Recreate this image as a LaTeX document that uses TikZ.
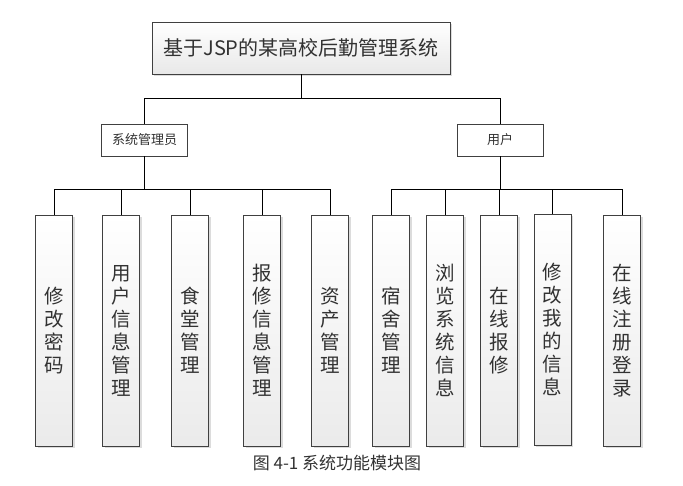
\documentclass[tikz,border=0pt]{standalone}
\usepackage{fontspec}
\usepackage{tikz}
\usetikzlibrary{shadows}
\newfontfamily\cjk{Noto Sans CJK SC}
\definecolor{boxline}{RGB}{64, 64, 64}
\definecolor{boxtext}{RGB}{50, 50, 50}
\tikzset{
  sysbox/.style={draw=boxline, line width=0.9pt, top color=white, bottom color=gray!18,
                 minimum width=298pt, minimum height=52pt, inner sep=0pt,
                 font=\cjk\fontsize{20}{22}\selectfont, text=boxtext,
                 drop shadow={shadow xshift=2pt, shadow yshift=-2pt, fill=gray!55}},
  rolebox/.style={draw=boxline, line width=0.9pt, fill=white,
                  minimum width=86pt, minimum height=32pt, inner sep=0pt,
                  font=\cjk\fontsize{13}{15}\selectfont, text=boxtext},
  funcbox/.style={draw=boxline, line width=0.9pt, top color=white, bottom color=gray!16,
                  minimum width=37pt, minimum height=231pt, inner sep=0pt,
                  text width=30pt, align=center,
                  font=\cjk\fontsize{19.5}{23}\selectfont, text=boxtext,
                  drop shadow={shadow xshift=2pt, shadow yshift=-2pt, fill=gray!55}},
  link/.style={line width=0.8pt, black}
}

\begin{document}
\begin{tikzpicture}[x=1pt, y=1pt]
  \useasboundingbox (0,0) rectangle (683,486);
  % top
  \node[sysbox] (sys) at (301,438) {基于JSP的某高校后勤管理系统};
  % roles
  \node[rolebox] (admin) at (144.5,346) {系统管理员};
  \node[rolebox] (user)  at (500,346)   {用户};
  % admin functions
  \node[funcbox] (pwd)   at (54,155.5)  {修\\改\\密\\码};
  \node[funcbox] (uinfo) at (121,155.5) {用\\户\\信\\息\\管\\理};
  \node[funcbox] (food)  at (190,155.5) {食\\堂\\管\\理};
  \node[funcbox] (rep)   at (262,155.5) {报\\修\\信\\息\\管\\理};
  \node[funcbox] (asset) at (330,155.5) {资\\产\\管\\理};
  % user functions
  \node[funcbox] (dorm)  at (391,155.5) {宿\\舍\\管\\理};
  \node[funcbox] (browse) at (445,155.5) {浏\\览\\系\\统\\信\\息};
  \node[funcbox] (online) at (499,155.5) {在\\线\\报\\修};
  \node[funcbox] (myinfo) at (552.5,156.5) {修\\改\\我\\的\\信\\息};
  \node[funcbox] (reg)   at (622,155.5) {在\\线\\注\\册\\登\\录};
  % caption
  \node[font=\cjk\fontsize{17}{20}\selectfont, text=boxtext] (cap) at (337,23) {图 4-1 系统功能模块图};
  % links
  \draw[link] (sys.south) -- ++(0,-24) -| (admin.north);
  \draw[link] (sys.south) -- ++(0,-24) -| (user.north);
  \draw[link] (admin.south) -- ++(0,-33) -| (pwd.north);
  \draw[link] (admin.south) -- ++(0,-33) -| (uinfo.north);
  \draw[link] (admin.south) -- ++(0,-33) -| (food.north);
  \draw[link] (admin.south) -- ++(0,-33) -| (rep.north);
  \draw[link] (admin.south) -- ++(0,-33) -| (asset.north);
  \draw[link] (user.south) -- ++(0,-33) -| (dorm.north);
  \draw[link] (user.south) -- ++(0,-33) -| (browse.north);
  \draw[link] (user.south) -- ++(0,-33) -| (online.north);
  \draw[link] (user.south) -- ++(0,-33) -| (myinfo.north);
  \draw[link] (user.south) -- ++(0,-33) -| (reg.north);
\end{tikzpicture}
\end{document}
